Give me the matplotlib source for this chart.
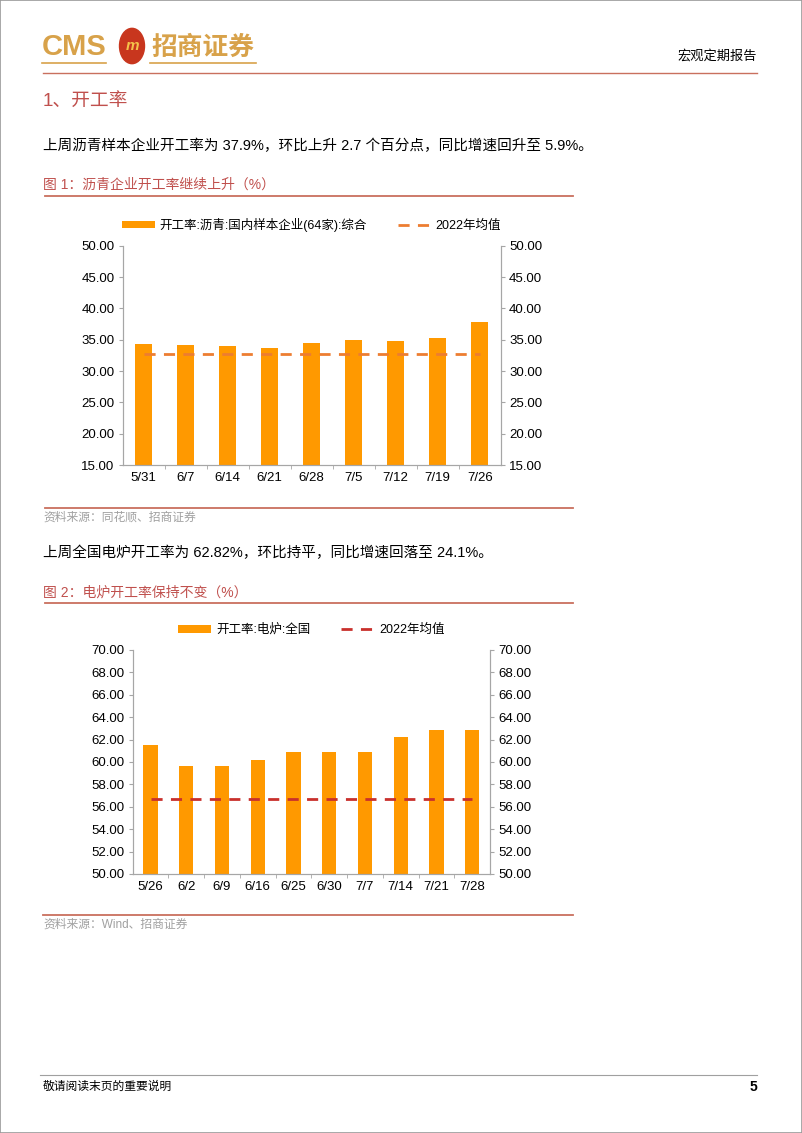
import matplotlib
matplotlib.use("Agg")
import matplotlib.pyplot as plt
from matplotlib.patches import Circle, Rectangle
from matplotlib.lines import Line2D

plt.rcParams['font.family'] = ['Liberation Sans', 'Noto Sans CJK SC', 'DejaVu Sans']

# chart 1: asphalt plant operating rate
dates1 = ["5/31", "6/7", "6/14", "6/21", "6/28", "7/5", "7/12", "7/19", "7/26"]
rate1 = [34.3, 34.2, 34.0, 33.7, 34.5, 34.9, 34.8, 35.2, 37.9]
avg1 = 32.7
yticks1 = [15, 20, 25, 30, 35, 40, 45, 50]

# chart 2: electric furnace operating rate
dates2 = ["5/26", "6/2", "6/9", "6/16", "6/25", "6/30", "7/7", "7/14", "7/21", "7/28"]
rate2 = [61.5, 59.6, 59.6, 60.2, 60.9, 60.9, 60.9, 62.2, 62.82, 62.82]
avg2 = 56.7
yticks2 = [50, 52, 54, 56, 58, 60, 62, 64, 66, 68, 70]

W, H = 802, 1133
fig = plt.figure(figsize=(W / 100, H / 100), dpi=100)

def fx(px):
    return px / W

def fy(py):
    return 1 - py / H

def hline(x0, x1, y, color, lw):
    fig.add_artist(Line2D([fx(x0), fx(x1)], [fy(y), fy(y)], color=color, lw=lw))

gold = "#D8A24A"
title_red = "#C0504D"
rule = "#C9705E"
bar_c = "#FF9900"
tick_fs = 9.5

# page border
fig.add_artist(Rectangle((0, 0), 1, 1, fill=False, ec="#9A9A9A", lw=1.2))

# header
fig.text(fx(42), fy(47), "CMS", color=gold, fontsize=21, weight="bold", va="center",
         family=["Liberation Sans Narrow", "Liberation Sans"])
fig.add_artist(Circle((fx(132), fy(46)), 12.5 / W, color="#C8361E", transform=fig.transFigure))
fig.text(fx(132), fy(46), "m", color="#F4C24A", fontsize=11, weight="bold",
         ha="center", va="center", style="italic")
fig.text(fx(151), fy(47), "招商证券", color=gold, fontsize=18.5, weight="bold", va="center",
         family=["Noto Sans CJK SC"])
hline(42, 106, 63, gold, 1.2)
hline(150, 256, 63, gold, 1.2)
fig.text(fx(757), fy(56), "宏观定期报告", fontsize=9.5, ha="right", va="center",
         family=["Noto Sans CJK SC"])
hline(43, 757, 73, rule, 1.0)

# section heading
fig.text(fx(43), fy(101), "1、开工率", color=title_red, fontsize=13.5, va="center")
fig.text(fx(43), fy(146), "上周沥青样本企业开工率为 37.9%，环比上升 2.7 个百分点，同比增速回升至 5.9%。",
         fontsize=10.5, va="center")
fig.text(fx(43), fy(185), "图 1：沥青企业开工率继续上升（%）", color=title_red, fontsize=10, va="center")
hline(45, 573, 196, rule, 1.3)


def draw_chart(rect, dates, vals, avg, yticks, line_c, label):
    ax = fig.add_axes(rect)
    x = list(range(len(dates)))
    ax.bar(x, vals, width=0.4, color=bar_c, label=label, zorder=2)
    ax.plot(x, [avg] * len(x), ls=(0, (4, 3)), color=line_c, lw=2, label="2022年均值", zorder=3)
    ax.set_xlim(-0.5, len(dates) - 0.5)
    ax.set_ylim(yticks[0], yticks[-1])
    ax.set_yticks(yticks)
    ax.set_yticklabels(["%.2f" % v for v in yticks], fontsize=tick_fs)
    ax.set_xticks(x)
    ax.set_xticklabels(dates, fontsize=tick_fs)
    ax.set_xticks([i + 0.5 for i in x[:-1]], minor=True)
    ax.tick_params(axis="x", which="major", length=0, pad=5)
    ax.tick_params(axis="x", which="minor", length=3, color="#A6A6A6")
    ax.tick_params(axis="y", length=3, color="#A6A6A6", pad=3)
    ax.spines["top"].set_visible(False)
    for s in ["left", "right", "bottom"]:
        ax.spines[s].set_color("#A6A6A6")
    ax2 = ax.twinx()
    ax2.set_ylim(yticks[0], yticks[-1])
    ax2.set_yticks(yticks)
    ax2.set_yticklabels(["%.2f" % v for v in yticks], fontsize=tick_fs)
    ax2.tick_params(axis="y", length=3, color="#A6A6A6", pad=3)
    ax2.spines["top"].set_visible(False)
    for s in ["left", "right", "bottom"]:
        ax2.spines[s].set_color("#A6A6A6")
    h, l = ax.get_legend_handles_labels()
    ax.legend(h[::-1], l[::-1], loc="lower center", bbox_to_anchor=(0.5, 1.04), ncol=2,
              frameon=False, fontsize=9, handlelength=2.6, handleheight=0.6,
              columnspacing=2.5, handletextpad=0.4, borderaxespad=0)
    return ax


draw_chart([fx(122.7), fy(465), fx(500.7) - fx(122.7), fy(245.7) - fy(465)],
           dates1, rate1, avg1, yticks1, "#ED7D31", "开工率:沥青:国内样本企业(64家):综合")

hline(45, 573, 508, rule, 1.3)
fig.text(fx(43), fy(518), "资料来源：同花顺、招商证券", color="#A0A0A0", fontsize=8.5, va="center")
fig.text(fx(43), fy(553), "上周全国电炉开工率为 62.82%，环比持平，同比增速回落至 24.1%。",
         fontsize=10.5, va="center")
fig.text(fx(43), fy(593), "图 2：电炉开工率保持不变（%）", color=title_red, fontsize=10, va="center")
hline(45, 573, 603, rule, 1.3)

draw_chart([fx(132.7), fy(874), fx(490) - fx(132.7), fy(650) - fy(874)],
           dates2, rate2, avg2, yticks2, "#C9302C", "开工率:电炉:全国")

hline(43, 573, 915, rule, 1.3)
fig.text(fx(43), fy(925), "资料来源：Wind、招商证券", color="#A0A0A0", fontsize=8.5, va="center")

# footer
hline(40, 757, 1075, "#A0A0A0", 0.8)
fig.text(fx(43), fy(1087), "敬请阅读末页的重要说明", fontsize=8.5, va="center")
fig.text(fx(757), fy(1087), "5", fontsize=10, weight="bold", ha="right", va="center")

fig.savefig("out.png", dpi=100)
